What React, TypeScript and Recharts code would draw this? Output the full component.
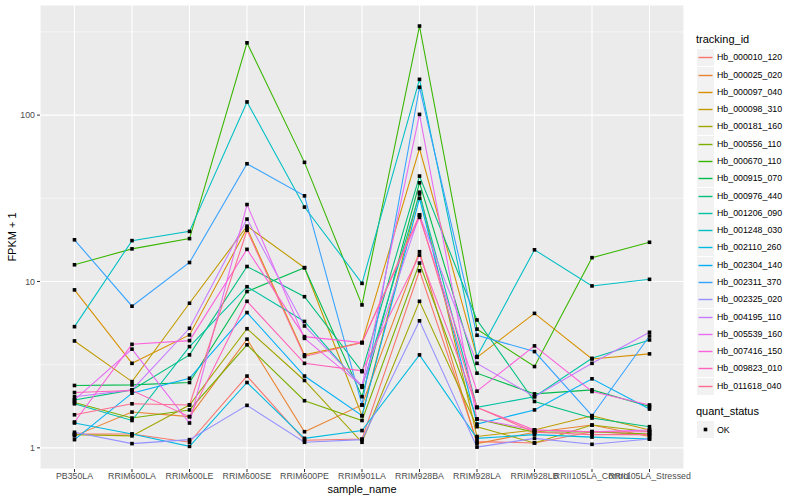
import React from "react";
import {
  CartesianGrid,
  Line,
  LineChart,
  ReferenceLine,
  XAxis,
  YAxis,
} from "recharts";

const sampleNames = [
  "PB350LA",
  "RRIM600LA",
  "RRIM600LE",
  "RRIM600SE",
  "RRIM600PE",
  "RRIM901LA",
  "RRIM928BA",
  "RRIM928LA",
  "RRIM928LB",
  "RRII105LA_Control",
  "RRII105LA_Stressed",
];

const trackingIds = [
  "Hb_000010_120",
  "Hb_000025_020",
  "Hb_000097_040",
  "Hb_000098_310",
  "Hb_000181_160",
  "Hb_000556_110",
  "Hb_000670_110",
  "Hb_000915_070",
  "Hb_000976_440",
  "Hb_001206_090",
  "Hb_001248_030",
  "Hb_002110_260",
  "Hb_002304_140",
  "Hb_002311_370",
  "Hb_002325_020",
  "Hb_004195_110",
  "Hb_005539_160",
  "Hb_007416_150",
  "Hb_009823_010",
  "Hb_011618_040",
];

const trackingColors = [
  "#F8766D", "#EA8331", "#D89000", "#C09B00", "#A3A500",
  "#7CAE00", "#39B600", "#00BB4E", "#00BF7D", "#00C1A3",
  "#00BFC4", "#00BAE0", "#00B0F6", "#35A2FF", "#9590FF",
  "#C77CFF", "#E76BF3", "#FA62DB", "#FF62BC", "#FF6C91",
];

// FPKM + 1, one value per sample_name
const hb000010_120 = [1.21, 1.21, 1.08, 2.7, 1.11, 1.13, 11.6, 1.09, 1.07, 1.25, 1.2];
const hb000025_020 = [1.18, 1.64, 1.54, 4.5, 1.25, 1.81, 15.1, 1.06, 1.24, 1.37, 1.17];
const hb000097_040 = [8.9, 3.22, 4.77, 20.9, 3.62, 4.29, 63, 3.5, 6.43, 3.42, 3.67];
const hb000098_310 = [4.39, 2.5, 7.4, 21.5, 12.1, 1.56, 34.4, 1.17, 1.28, 1.56, 1.28];
const hb000181_160 = [1.2, 1.18, 1.81, 5.2, 2.54, 1.08, 7.6, 1.34, 1.07, 1.37, 1.25];
const hb000556_110 = [1.87, 1.51, 1.69, 4.16, 1.92, 1.46, 12.9, 1.49, 1.24, 1.25, 1.21];
const hb000670_110 = [12.6, 15.7, 18.1, 272, 52, 7.23, 343, 5.17, 3.08, 13.9, 17.2];
const hb000915_070 = [2.37, 2.39, 2.47, 8.7, 12.1, 2.03, 39.2, 2.81, 2.11, 2.23, 1.77];
const hb000976_440 = [1.94, 2.23, 3.62, 12.3, 8.1, 2.87, 43, 5.87, 1.9, 1.51, 1.34];
const hb001206_090 = [1.84, 1.46, 4.06, 9.3, 5.75, 2.31, 33.6, 1.75, 2.03, 3.45, 4.45];
const hb001248_030 = [5.35, 17.6, 20.0, 120, 28, 9.74, 164, 3.54, 15.5, 9.4, 10.3];
const hb002110_260 = [1.41, 1.21, 1.02, 2.47, 1.14, 1.27, 3.62, 1.14, 1.2, 1.16, 1.13];
const hb002304_140 = [1.12, 2.13, 2.62, 6.5, 2.7, 1.56, 31.6, 1.39, 1.69, 2.6, 1.71];
const hb002311_370 = [17.8, 7.1, 13.0, 51, 32.7, 1.81, 147, 4.75, 3.79, 1.56, 4.7];
const hb002325_020 = [1.24, 1.06, 1.12, 1.8, 1.08, 1.12, 5.8, 1.01, 1.14, 1.05, 1.13];
const hb004195_110 = [2.03, 2.23, 5.23, 23.7, 5.4, 2.36, 25.1, 3.22, 2.03, 3.22, 4.95];
const hb005539_160 = [1.94, 3.92, 1.41, 29, 4.55, 2.36, 101, 1.49, 1.28, 1.25, 1.28];
const hb007416_150 = [1.43, 4.19, 4.41, 15.6, 4.66, 4.29, 24.3, 2.19, 4.1, 2.18, 1.81];
const hb009823_010 = [2.15, 2.21, 1.54, 7.6, 3.22, 2.9, 14.4, 1.75, 1.28, 1.25, 1.25];
const hb011618_040 = [1.58, 1.84, 1.81, 20.3, 3.54, 4.29, 25.1, 1.75, 1.24, 1.2, 1.2];

const fpkmValues = [
  hb000010_120, hb000025_020, hb000097_040, hb000098_310, hb000181_160,
  hb000556_110, hb000670_110, hb000915_070, hb000976_440, hb001206_090,
  hb001248_030, hb002110_260, hb002304_140, hb002311_370, hb002325_020,
  hb004195_110, hb005539_160, hb007416_150, hb009823_010, hb011618_040,
];

const majorTicks = [1, 10, 100];
const minorTicks = [3.1623, 31.623, 316.23];

const data = sampleNames.map((name, i) => {
  const row: Record<string, string | number> = { sample_name: name };
  trackingIds.forEach((id, s) => {
    row[id] = fpkmValues[s][i];
  });
  return row;
});

const FONT = '"Liberation Sans", Arial, Helvetica, sans-serif';

const SquareDot = (props: any) => {
  const { cx, cy, index } = props;
  if (cx == null || cy == null) return <g key={index} />;
  return <rect key={index} x={cx - 1.8} y={cy - 1.8} width={3.6} height={3.6} fill="#000" />;
};

const Legend = () => {
  const keyTop = 57.3;
  const step = 17.28;
  return (
    <div style={{ position: "absolute", left: 0, top: 0, fontFamily: FONT }}>
      <div
        style={{
          position: "absolute",
          left: 696,
          top: 33,
          fontSize: 11,
          color: "#000",
          whiteSpace: "nowrap",
        }}
      >
        tracking_id
      </div>
      {trackingIds.map((id, i) => {
        const cy = Math.round(keyTop + step * i);
        return (
          <div key={id}>
            <svg
              width={17}
              height={17}
              style={{ position: "absolute", left: 697, top: cy - 8 }}
            >
              <rect x={0} y={0} width={17} height={17} fill="#F2F2F2" />
              <line
                x1={1.5}
                x2={15.5}
                y1={8.5}
                y2={8.5}
                stroke={trackingColors[i]}
                strokeWidth={1.4}
              />
            </svg>
            <div
              style={{
                position: "absolute",
                left: 717,
                top: cy - 6,
                fontSize: 8.8,
                lineHeight: "12px",
                color: "#000",
                whiteSpace: "nowrap",
              }}
            >
              {id}
            </div>
          </div>
        );
      })}
      <div
        style={{
          position: "absolute",
          left: 696,
          top: 405,
          fontSize: 11,
          color: "#000",
          whiteSpace: "nowrap",
        }}
      >
        quant_status
      </div>
      <svg width={17} height={17} style={{ position: "absolute", left: 697, top: 421 }}>
        <rect x={0} y={0} width={17} height={17} fill="#F2F2F2" />
        <rect x={6.7} y={6.7} width={3.6} height={3.6} fill="#000" />
      </svg>
      <div
        style={{
          position: "absolute",
          left: 717,
          top: 423.5,
          fontSize: 8.8,
          lineHeight: "12px",
          color: "#000",
        }}
      >
        OK
      </div>
    </div>
  );
};

export default function App() {
  return (
    <div style={{ position: "relative", width: 800, height: 500, background: "#fff" }}>
      <style>{"body{margin:0}"}</style>
      <LineChart
        width={800}
        height={500}
        data={data}
        margin={{ top: 5, right: 116, bottom: 0, left: 0 }}
      >
        <CartesianGrid fill="#EBEBEB" fillOpacity={1} stroke="#FFFFFF" strokeWidth={1.1} />
        {minorTicks.map((v) => (
          <ReferenceLine key={v} y={v} stroke="#FFFFFF" strokeWidth={0.55} />
        ))}
        <XAxis
          dataKey="sample_name"
          interval={0}
          padding={{ left: 34.5, right: 34.5 }}
          height={31}
          axisLine={false}
          tickSize={3}
          tickMargin={1}
          tickLine={{ stroke: "#333333", strokeWidth: 1 }}
          tick={{ fill: "#4D4D4D", fontSize: 8.8, fontFamily: FONT }}
        />
        <YAxis
          scale="log"
          type="number"
          domain={[0.746, 459]}
          allowDataOverflow
          ticks={majorTicks}
          width={40}
          axisLine={false}
          tickSize={3}
          tickMargin={2}
          tickLine={{ stroke: "#333333", strokeWidth: 1 }}
          tick={{ fill: "#4D4D4D", fontSize: 8.8, fontFamily: FONT }}
        />
        {trackingIds.map((id, i) => (
          <Line
            key={id}
            type="linear"
            dataKey={id}
            stroke={trackingColors[i]}
            strokeWidth={1.07}
            dot={false}
            activeDot={false}
            isAnimationActive={false}
          />
        ))}
        {trackingIds.map((id) => (
          <Line
            key={id + "_pts"}
            type="linear"
            dataKey={id}
            stroke="none"
            dot={SquareDot}
            activeDot={false}
            legendType="none"
            isAnimationActive={false}
          />
        ))}
      </LineChart>
      <div
        style={{
          position: "absolute",
          left: 12,
          top: 237,
          transform: "translate(-50%, -50%) rotate(-90deg)",
          fontFamily: FONT,
          fontSize: 11,
          whiteSpace: "nowrap",
          color: "#000",
        }}
      >
        FPKM + 1
      </div>
      <div
        style={{
          position: "absolute",
          left: 362,
          top: 489,
          transform: "translate(-50%, -50%)",
          fontFamily: FONT,
          fontSize: 11,
          whiteSpace: "nowrap",
          color: "#000",
        }}
      >
        sample_name
      </div>
      <Legend />
    </div>
  );
}
